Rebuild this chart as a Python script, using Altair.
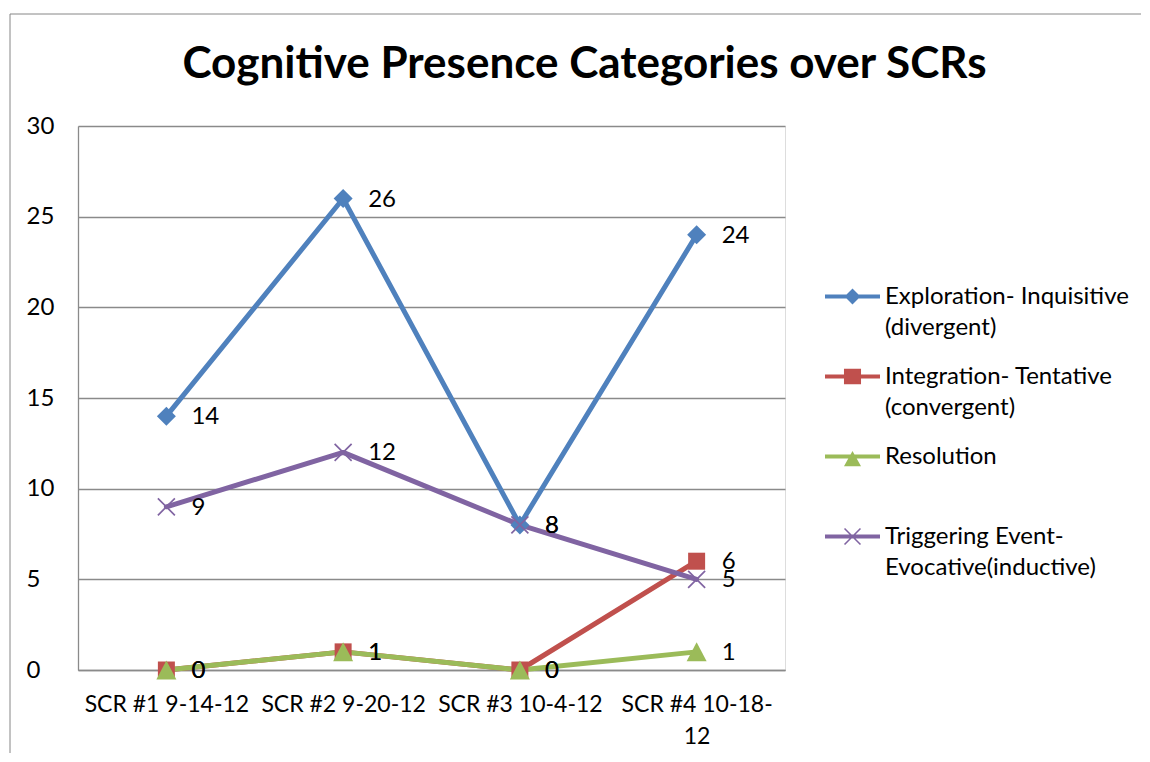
import altair as alt
import pandas as pd

# ---- data ----
categories = ["SCR #1 9-14-12", "SCR #2 9-20-12", "SCR #3 10-4-12", "SCR #4 10-18-12"]
series_names = [
    "Exploration- Inquisitive (divergent)",
    "Integration- Tentative (convergent)",
    "Resolution",
    "Triggering Event- Evocative(inductive)",
]
exploration = [14, 26, 8, 24]
integration = [0, 1, 0, 6]
resolution = [0, 1, 0, 1]
triggering = [9, 12, 8, 5]
y_ticks = [0, 5, 10, 15, 20, 25, 30]

colors = ["#4F81BD", "#C0504D", "#9BBB59", "#8064A2"]

rows = []
for name, vals in zip(series_names, [exploration, integration, resolution, triggering]):
    for c, v in zip(categories, vals):
        rows.append({"category": c, "series": name, "value": v})
df = pd.DataFrame(rows)

# ---- marker shapes (unit paths) ----
marker_paths = [
    "M0,-0.95L0.95,0L0,0.95L-0.95,0Z",
    "M-0.85,-0.85H0.85V0.85H-0.85Z",
    "M0,-0.95L1,0.95L-1,0.95Z",
    "M-0.79,-0.91L0.91,0.79L0.79,0.91L-0.91,-0.79Z"
    "M-0.91,0.79L0.79,-0.91L0.91,-0.79L-0.79,0.91Z",
]
leg_line = "M-1,-0.073H1V0.073H-1Z"
legend_paths = [
    leg_line + "M0,-0.29L0.29,0L0,0.29L-0.29,0Z",
    leg_line + "M-0.31,-0.28H0.31V0.28H-0.31Z",
    leg_line + "M0,-0.2L0.31,0.35L-0.31,0.35Z",
    leg_line + "M-0.27,-0.31L0.31,0.27L0.27,0.31L-0.31,-0.27Z"
    "M-0.31,0.27L0.27,-0.31L0.31,-0.27L-0.27,0.31Z",
]

FONT = "Lato"
GRID = "#8A8A8A"

color_scale = alt.Scale(domain=series_names, range=colors)

x_enc = alt.X(
    "category:N",
    sort=categories,
    scale=alt.Scale(type="point", domain=categories, padding=0.5),
    axis=alt.Axis(
        title=None,
        labelFont=FONT,
        labelFontSize=23,
        labelColor="black",
        labelAngle=0,
        labelBaseline="top",
        labelPadding=23,
        labelLineHeight=32,
        labelLimit=300,
        ticks=False,
        tickSize=0,
        domainColor=GRID,
        domainWidth=1.3,
        labelExpr="datum.label == 'SCR #4 10-18-12' ? ['SCR #4 10-18-', '12'] : datum.label",
    ),
)
y_enc = alt.Y(
    "value:Q",
    scale=alt.Scale(domain=[0, 30], nice=False, zero=True),
    axis=alt.Axis(
        title=None,
        values=y_ticks,
        labelFont=FONT,
        labelFontSize=24,
        labelColor="black",
        labelAlign="left",
        labelBaseline="middle",
        labelPadding=52,
        ticks=False,
        tickSize=0,
        grid=True,
        gridColor=GRID,
        gridWidth=1.3,
        domainColor=GRID,
        domainWidth=1.3,
    ),
)

base = alt.Chart(df)

frame = alt.Chart(pd.DataFrame({"k": [0]})).mark_rect(
    fillOpacity=0, stroke="#868686", strokeWidth=1
).encode(
    x=alt.value(-68), x2=alt.value(1300), y=alt.value(-112), y2=alt.value(900)
)

lines = base.mark_line(strokeWidth=5, strokeJoin="round", strokeCap="round").encode(
    x=x_enc, y=y_enc, color=alt.Color("series:N", scale=color_scale, legend=None),
    detail="series:N",
)

point_layers = []
for name, path in zip(series_names, marker_paths):
    point_layers.append(
        base.transform_filter(alt.datum.series == name)
        .mark_point(filled=True, size=400, opacity=1, strokeWidth=0, shape=path)
        .encode(x=x_enc, y=y_enc,
                color=alt.Color("series:N", scale=color_scale, legend=None))
    )

labels = base.mark_text(
    align="left", baseline="middle", dx=25, dy=1, font=FONT, fontSize=24, color="black"
).encode(x=x_enc, y=y_enc, text="value:Q")

legend_expr = (
    "datum.label == 'Exploration- Inquisitive (divergent)' ? ['Exploration- Inquisitive', '(divergent)'] : "
    "datum.label == 'Integration- Tentative (convergent)' ? ['Integration- Tentative', '(convergent)'] : "
    "datum.label == 'Triggering Event- Evocative(inductive)' ? ['Triggering Event-', 'Evocative(inductive)'] : "
    "[datum.label, '']"
)

# legend-only layer: draws no marks (filtered out), legend comes from explicit domains
legend_layer = base.transform_filter("datum.value < -1000").mark_point(
    filled=True, opacity=1
).encode(
    x=x_enc,
    y=y_enc,
    color=alt.Color(
        "series:N",
        scale=color_scale,
        legend=alt.Legend(
            title=None,
            orient="none",
            legendX=747,
            legendY=143,
            padding=0,
            symbolSize=3025,
            symbolStrokeWidth=0,
            symbolOpacity=1,
            labelFont=FONT,
            labelFontSize=24,
            labelColor="black",
            labelLimit=400,
            labelOffset=5,
            labelBaseline="middle",
            rowPadding=9,
            labelExpr=legend_expr,
        ),
    ),
    shape=alt.Shape("series:N", scale=alt.Scale(domain=series_names, range=legend_paths)),
)

chart = alt.layer(frame, legend_layer, lines, *point_layers, labels).properties(
    width=707,
    height=544,
    title=alt.TitleParams(
        "Cognitive Presence Categories over SCRs",
        font=FONT,
        fontSize=44,
        fontWeight="bold",
        color="black",
        anchor="middle",
        frame="group",
        baseline="alphabetic",
        offset=-108,
        dx=153,
    ),
    autosize=alt.AutoSizeParams(type="none"),
    padding={"left": 70, "top": 118, "right": 356, "bottom": 83},
).configure_view(stroke=None).configure(
    background="white",
    style={"guide-label": {"lineHeight": 31}},
)

chart.save("out.html", embed_options={"renderer": "svg", "actions": False})
